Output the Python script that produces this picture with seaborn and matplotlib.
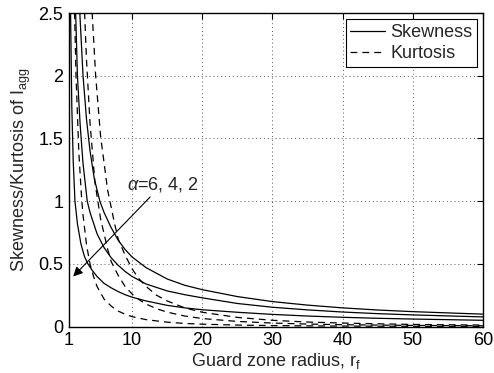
import matplotlib
matplotlib.use("Agg")
import matplotlib.pyplot as plt
import seaborn as sns

sns.set_style("white")
plt.rcParams['font.family'] = ['Liberation Sans', 'DejaVu Sans']
plt.rcParams['mathtext.fontset'] = 'custom'
plt.rcParams['mathtext.rm'] = 'Liberation Sans'
plt.rcParams['mathtext.it'] = 'Liberation Sans:italic'

# Skewness curves (solid), alpha = 6, 4, 2
r_skew6 = [2.45, 3, 3.5, 4, 4.6, 5.4, 6, 7, 8, 9, 10, 12, 15, 17.5, 20, 25, 30, 35, 40, 45, 50, 60]
skew6 = [2.6, 2.0, 1.65, 1.4, 1.18, 1.0, 0.91, 0.79, 0.69, 0.615, 0.555, 0.47, 0.38, 0.33, 0.295, 0.24, 0.20, 0.172, 0.15, 0.133, 0.12, 0.10]

r_skew4 = [1.9, 2.2, 2.6, 3, 3.6, 4, 5, 6, 7, 8, 9, 10, 12, 15, 17.5, 20, 25, 30, 35, 40, 45, 50, 60]
skew4 = [2.6, 2.0, 1.6, 1.3, 1.0, 0.91, 0.74, 0.63, 0.55, 0.49, 0.44, 0.40, 0.34, 0.285, 0.255, 0.23, 0.185, 0.155, 0.134, 0.117, 0.104, 0.094, 0.078]

r_skew2 = [1.2, 1.4, 1.6, 1.85, 2.2, 2.7, 3.2, 3.7, 4.3, 5, 6, 7, 8, 9, 10, 12, 15, 17.5, 20, 25, 30, 35, 40, 45, 50, 60]
skew2 = [2.6, 1.75, 1.32, 1.0, 0.82, 0.66, 0.56, 0.50, 0.45, 0.40, 0.345, 0.31, 0.28, 0.255, 0.235, 0.205, 0.17, 0.15, 0.135, 0.115, 0.098, 0.085, 0.075, 0.067, 0.061, 0.051]

# Kurtosis curves (dashed), alpha = 6, 4, 2
r_kurt6 = [4.2, 4.8, 5.5, 6.5, 7.5, 8, 9, 10, 11, 12, 13.5, 15, 17.5, 20, 25, 30, 35, 40, 45, 50, 60]
kurt6 = [2.6, 2.0, 1.52, 1.09, 0.82, 0.70, 0.57, 0.46, 0.38, 0.32, 0.25, 0.205, 0.15, 0.115, 0.074, 0.051, 0.037, 0.029, 0.023, 0.018, 0.013]

r_kurt4 = [3.15, 3.5, 4, 4.7, 5.5, 6.5, 7, 8, 9, 10, 11, 12, 13.5, 15, 17.5, 20, 25, 30, 35, 40, 45, 50, 60]
kurt4 = [2.6, 2.12, 1.62, 1.15, 0.86, 0.62, 0.52, 0.41, 0.32, 0.26, 0.215, 0.18, 0.143, 0.116, 0.085, 0.065, 0.042, 0.029, 0.021, 0.016, 0.013, 0.0104, 0.0072]

r_kurt2 = [1.75, 2, 2.4, 2.8, 3, 3.5, 4, 4.5, 5, 6, 7, 8, 9, 10, 12, 15, 17.5, 20, 25, 30, 35, 40, 45, 50, 60]
kurt2 = [2.6, 2.0, 1.39, 1.02, 0.89, 0.65, 0.50, 0.40, 0.32, 0.22, 0.165, 0.125, 0.099, 0.08, 0.056, 0.036, 0.026, 0.02, 0.013, 0.009, 0.0065, 0.005, 0.004, 0.0032, 0.0022]

x_ticks = [1, 10, 20, 30, 40, 50, 60]
y_ticks = [0, 0.5, 1, 1.5, 2, 2.5]
y_tick_labels = ['0', '0.5', '1', '1.5', '2', '2.5']

FS = 13

fig = plt.figure(figsize=(4.94, 3.73), dpi=100)
ax = fig.add_axes([69/494, 1 - 326.7/373, (483 - 69)/494, (326.7 - 13)/373])

lw = 0.9
skew_sets = [(r_skew6, skew6), (r_skew4, skew4), (r_skew2, skew2)]
kurt_sets = [(r_kurt6, kurt6), (r_kurt4, kurt4), (r_kurt2, kurt2)]
for i, (rr, vv) in enumerate(skew_sets):
    sns.lineplot(x=rr, y=vv, ax=ax, color='black', linewidth=lw, sort=False,
                 label='Skewness' if i == 0 else None)
for i, (rr, vv) in enumerate(kurt_sets):
    sns.lineplot(x=rr, y=vv, ax=ax, color='black', linewidth=lw, sort=False,
                 linestyle=(0, (5.5, 4)),
                 label='Kurtosis' if i == 0 else None)

ax.set_xlim(1, 60)
ax.set_ylim(0, 2.5)
ax.set_xticks(x_ticks)
ax.set_xticklabels([str(t) for t in x_ticks])
ax.set_yticks(y_ticks)
ax.set_yticklabels(y_tick_labels)
ax.grid(True, linestyle=(0, (1, 3)), color='#555555', linewidth=0.7)
ax.tick_params(direction='in', length=4, width=0.8, top=True, right=True,
               labelsize=FS, colors='black', pad=4)
for s in ax.spines.values():
    s.set_visible(True)
    s.set_color('black')
    s.set_linewidth(1.0)

ax.set_xlabel(r'Guard zone radius, r$_{\mathrm{f}}$', fontsize=FS, labelpad=1)
ax.set_ylabel(r'Skewness/Kurtosis of I$_{\mathrm{agg}}$', fontsize=FS, labelpad=4)

leg = ax.legend(loc='upper right', fontsize=FS, frameon=True, fancybox=False,
                edgecolor='black', framealpha=1, borderaxespad=0.35,
                handlelength=1.9, handletextpad=0.3, borderpad=0.25, labelspacing=0.25)
leg.get_frame().set_linewidth(0.8)

ax.annotate(r'$\alpha$=6, 4, 2', xy=(1.6, 0.40), xytext=(9.2, 1.06),
            fontsize=FS, ha='left', va='bottom',
            arrowprops=dict(arrowstyle='-|>', color='black', lw=0.8,
                            mutation_scale=14, shrinkA=0, shrinkB=0))

fig.savefig('out.png', dpi=100)
